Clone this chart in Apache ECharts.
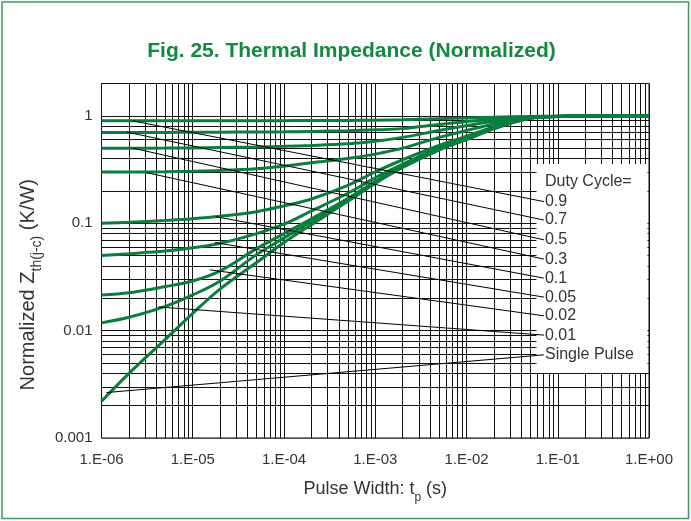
<!DOCTYPE html>
<html>
<head>
<meta charset="utf-8">
<script src="https://cdn.jsdelivr.net/npm/echarts@6/dist/echarts.min.js"></script>
<style>
  html, body { margin: 0; padding: 0; background: #ffffff; }
  #chart { width: 691px; height: 521px; }
</style>
</head>
<body>
<div id="chart"></div>
<script>
// Pulse widths (s) at which the curves are sampled
const tp = [1e-6, 2e-6, 5e-6, 1e-5, 2e-5, 5e-5, 1e-4, 2e-4, 5e-4, 1e-3, 2e-3, 5e-3, 1e-2, 2e-2, 5e-2, 1e-1, 2e-1, 5e-1, 1];

// Normalized Zth(j-c) for each duty cycle
const z09     = [0.9, 0.9, 0.9, 0.9, 0.9, 0.901, 0.902, 0.904, 0.907, 0.91, 0.92, 0.94, 0.955, 0.97, 0.985, 0.993, 0.997, 1, 1];
const z07     = [0.7, 0.7, 0.701, 0.702, 0.704, 0.707, 0.71, 0.716, 0.727, 0.74, 0.76, 0.83, 0.885, 0.93, 0.975, 0.99, 0.997, 1, 1];
const z05     = [0.5, 0.5, 0.501, 0.503, 0.507, 0.513, 0.52, 0.53, 0.55, 0.58, 0.63, 0.73, 0.81, 0.89, 0.97, 0.99, 0.996, 1, 1];
const z03     = [0.3, 0.3, 0.302, 0.305, 0.31, 0.322, 0.34, 0.365, 0.4, 0.44, 0.5, 0.63, 0.73, 0.84, 0.965, 0.988, 0.996, 1, 1];
const z01     = [0.1, 0.102, 0.106, 0.11, 0.116, 0.128, 0.145, 0.168, 0.225, 0.3, 0.39, 0.53, 0.645, 0.79, 0.96, 0.987, 0.995, 1, 1];
const z005    = [0.05, 0.052, 0.055, 0.059, 0.065, 0.08, 0.098, 0.13, 0.19, 0.265, 0.355, 0.505, 0.62, 0.775, 0.955, 0.986, 0.995, 1, 1];
const z002    = [0.0215, 0.0225, 0.0257, 0.029, 0.036, 0.058, 0.08, 0.11, 0.17, 0.245, 0.34, 0.49, 0.61, 0.765, 0.952, 0.985, 0.995, 1, 1];
const z001    = [0.0118, 0.0133, 0.0168, 0.0215, 0.029, 0.051, 0.073, 0.104, 0.165, 0.24, 0.335, 0.485, 0.605, 0.762, 0.95, 0.985, 0.995, 1, 1];
const zSingle = [0.0022, 0.004, 0.0083, 0.0145, 0.0245, 0.043, 0.066, 0.097, 0.16, 0.235, 0.33, 0.48, 0.6, 0.76, 0.95, 0.985, 0.995, 1, 1];

const curves = [z09, z07, z05, z03, z01, z005, z002, z001, zSingle];

// Leader lines: from a point on each curve to its label
const leaderLabels = ['0.9', '0.7', '0.5', '0.3', '0.1', '0.05', '0.02', '0.01', 'Single Pulse'];
const leaderFrom = [[2.2e-6, 0.898], [1.9e-6, 0.705], [2.2e-6, 0.5], [3.1e-6, 0.296], [1.8e-5, 0.115],
                    [1.75e-5, 0.066], [1.54e-5, 0.0368], [4.2e-6, 0.0166], [1.13e-6, 0.00265]];
const leaderTo = [[0.0706, 0.159], [0.0706, 0.107], [0.0706, 0.070], [0.0706, 0.0463], [0.0706, 0.0308],
                  [0.0706, 0.0205], [0.0706, 0.01374], [0.0706, 0.00908], [0.0706, 0.00595]];

// Axis tick labels (one per decade)
const xTickLabels = ['1.E-06', '1.E-05', '1.E-04', '1.E-03', '1.E-02', '1.E-01', '1.E+00'];
const yTickLabels = ['0.001', '0.01', '0.1', '1'];

const X_MIN = 1e-6, X_MAX = 1, Y_MIN = 0.001, Y_MAX = 2;
const FONT = 'Liberation Sans, Arial, sans-serif';
const GREEN = '#0b7d3e';

// Logarithmic grid: every 1..9 multiple of each decade
const xGrid = [];
for (let e = -6; e <= -1; e++) for (let m = 1; m <= 9; m++) xGrid.push(m * Math.pow(10, e));
xGrid.push(1);
const yGrid = [];
for (let e = -3; e <= -1; e++) for (let m = 1; m <= 9; m++) yGrid.push(m * Math.pow(10, e));
yGrid.push(1);

function decadeLabel(value, labels, firstExp) {
  const lg = Math.log10(value);
  const e = Math.round(lg);
  if (Math.abs(lg - e) > 1e-6) return '';
  return labels[e - firstExp] || '';
}

const series = [];
series.push({
  type: 'lines', coordinateSystem: 'cartesian2d', silent: true, z: 1,
  lineStyle: { color: '#111', width: 1, opacity: 1 },
  data: xGrid.map(v => ({ coords: [[v, Y_MIN], [v, Y_MAX]] }))
    .concat(yGrid.map(v => ({ coords: [[X_MIN, v], [X_MAX, v]] })))
});

curves.forEach((z, k) => {
  series.push({
    type: 'line', name: leaderLabels[k], z: 3,
    data: tp.map((t, i) => [t, z[i]]),
    smooth: 0.35, showSymbol: false, silent: true,
    lineStyle: { color: GREEN, width: 3 }
  });
});

leaderLabels.forEach((lbl, k) => {
  series.push({
    type: 'line', z: 4, silent: true,
    data: [leaderFrom[k], leaderTo[k]],
    showSymbol: false,
    lineStyle: { color: '#000', width: 1 },
    endLabel: {
      show: true, formatter: lbl, distance: 1,
      fontFamily: FONT, fontSize: 16, color: '#333'
    }
  });
});

const chart = echarts.init(document.getElementById('chart'), null, { renderer: 'canvas' });
chart.setOption({
  animation: false,
  backgroundColor: '#ffffff',
  title: {
    text: 'Fig. 25. Thermal Impedance (Normalized)',
    left: 346.5, top: 36, textAlign: 'center',
    textStyle: { fontFamily: FONT, fontSize: 21, fontWeight: 'bold', color: '#13883f' }
  },
  grid: {
    left: 101.5, top: 83.5, width: 547.5, height: 354.5,
    show: true, borderColor: '#111', borderWidth: 1, backgroundColor: 'transparent'
  },
  xAxis: {
    type: 'log', logBase: 10, min: X_MIN, max: X_MAX,
    name: '{a|Pulse Width: t}{s|p}{a| (s)}',
    nameLocation: 'middle', nameGap: 42,
    nameTextStyle: {
      rich: {
        a: { fontFamily: FONT, fontSize: 18, color: '#333' },
        s: { fontFamily: FONT, fontSize: 12, color: '#333', verticalAlign: 'bottom', padding: [0, 0, -6, 0] }
      }
    },
    axisLine: { show: false }, axisTick: { show: false },
    splitLine: { show: false }, minorTick: { show: false },
    axisLabel: {
      fontFamily: FONT, fontSize: 15, color: '#333', margin: 14,
      formatter: v => decadeLabel(v, xTickLabels, -6)
    }
  },
  yAxis: {
    type: 'log', logBase: 10, min: Y_MIN, max: Y_MAX,
    name: '{a|Normalized Z}{s|th(j-c)}{a| (K/W)}',
    nameLocation: 'middle', nameGap: 52, nameRotate: 90,
    nameTextStyle: {
      padding: [0, 48, 0, 0],
      rich: {
        a: { fontFamily: FONT, fontSize: 20, color: '#333' },
        s: { fontFamily: FONT, fontSize: 14, color: '#333', verticalAlign: 'bottom', padding: [0, 0, -6, 0] }
      }
    },
    axisLine: { show: false }, axisTick: { show: false },
    splitLine: { show: false }, minorTick: { show: false },
    axisLabel: {
      fontFamily: FONT, fontSize: 15, color: '#333', margin: 9,
      formatter: v => decadeLabel(v, yTickLabels, -3)
    }
  },
  graphic: [
    {
      type: 'rect', z: 10, silent: true,
      shape: { x: 2, y: 2, width: 686.5, height: 516.5 },
      style: { fill: 'none', stroke: '#3b9b5e', lineWidth: 1.5 }
    },
    {
      type: 'rect', z: 2, silent: true,
      shape: { x: 536.5, y: 164, width: 111, height: 209 },
      style: { fill: '#ffffff' }
    },
    {
      type: 'text', z: 5, silent: true, x: 545, y: 182,
      style: { text: 'Duty Cycle=', fontFamily: FONT, fontSize: 16, fill: '#333', verticalAlign: 'middle' }
    }
  ],
  series: series
});
</script>
</body>
</html>
